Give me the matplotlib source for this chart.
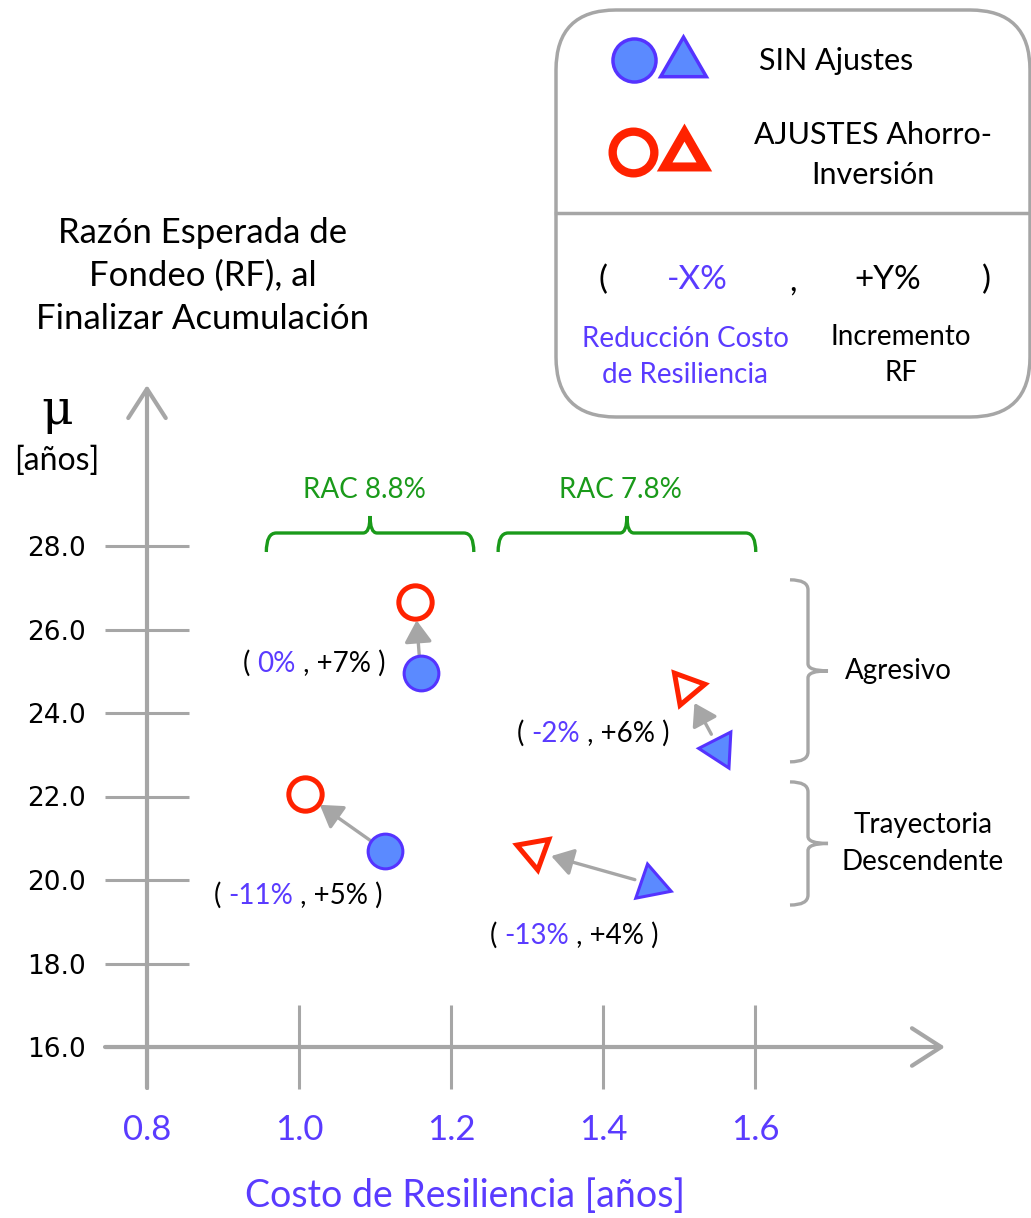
import numpy as np
import matplotlib.pyplot as plt
from matplotlib.path import Path
from matplotlib.patches import PathPatch, FancyBboxPatch

# ---- datos ----
base_x = [1.160, 1.113, 1.553, 1.463]     # SIN ajustes (costo de resiliencia)
base_y = [24.95, 20.70, 23.14, 19.90]     # SIN ajustes (RF)
adj_x = [1.153, 1.008, 1.509, 1.309]      # AJUSTES ahorro-inversion
adj_y = [26.65, 22.05, 24.62, 20.69]
shapes = ['o', 'o', 't', 't']
base_rot = [0, 0, 87, 11]
adj_rot = [0, 0, 40, 70]
cost_change = ['0%', '-11%', '-2%', '-13%']
rf_change = ['+7%', '+5%', '+6%', '+4%']
label_offsets = [(-128, 7), (-123, -32), (-146, 11), (-116, -37)]

xticks = [0.8, 1.0, 1.2, 1.4, 1.6]
yticks = [16, 18, 20, 22, 24, 26, 28]

rac_labels = ['RAC 8.8%', 'RAC 7.8%']
rac_spans = [(0.957, 1.230), (1.262, 1.601)]
group_labels = ['Agresivo', 'Trayectoria\nDescendente']
group_spans = [(22.83, 27.19), (19.40, 22.35)]

GRAY = '#a6a6a6'
BLUE_FACE = '#5b8aff'
BLUE_EDGE = '#5533ff'
RED = '#ff2200'
TXT_BLUE = '#5a3bff'
GREEN = '#1a9a1a'
FONT = 'Lato'

fig = plt.figure(figsize=(10.31, 12.18), dpi=100)

# capa de fondo en pixeles para titulo y leyenda
ov = fig.add_axes([0, 0, 1, 1])
ov.set_xlim(0, 1031)
ov.set_ylim(1218, 0)
ov.axis('off')

ax = fig.add_axes([105 / 1031, 130 / 1218, 840 / 1031, 703 / 1218])
ax.patch.set_visible(False)
ax.set_xlim(0.8 - 42 / 760, 0.8 + 798 / 760)
ax.set_ylim(16 - 41 / 41.75, 16 + 662 / 41.75)
for s in ['top', 'right', 'left', 'bottom']:
    ax.spines[s].set_visible(False)
ax.spines['left'].set_position(('data', 0.8))
ax.spines['bottom'].set_position(('data', 16))

# ejes con flecha abierta
x0, x1 = ax.get_xlim()
y0, y1 = ax.get_ylim()
arrow_axis = dict(arrowstyle='->,head_length=0.7,head_width=0.45', color=GRAY, lw=3,
                  shrinkA=0, shrinkB=0, mutation_scale=30)
ax.annotate('', xy=(x1, 16), xytext=(x0, 16), arrowprops=arrow_axis, zorder=1)
ax.annotate('', xy=(0.8, y1), xytext=(0.8, y0), arrowprops=arrow_axis, zorder=1)

ax.set_xticks(xticks)
ax.set_xticklabels([f'{v:.1f}' for v in xticks], color=TXT_BLUE, fontsize=25, family=FONT)
ax.set_yticks(yticks)
ax.set_yticklabels([f'{v:.1f}' for v in yticks], fontsize=19, family='DejaVu Sans')
ax.tick_params(direction='inout', length=60, width=2.2, color=GRAY, pad=14)
ax.tick_params(axis='x', pad=18)

ax.set_xlabel('Costo de Resiliencia [años]', color=TXT_BLUE, fontsize=27, family=FONT)
ax.xaxis.label.set_va('center')
ax.xaxis.set_label_coords((465 - 105) / 840, -(1196 - 1088) / 703)


def tri_marker(rot):
    return (3, 0, rot)


# flechas de desplazamiento
for bx, by, axx, ayy in zip(base_x, base_y, adj_x, adj_y):
    ax.annotate('', xy=(axx, ayy), xytext=(bx, by),
                arrowprops=dict(arrowstyle='-|>,head_length=0.6,head_width=0.38',
                                color=GRAY, lw=2.4, shrinkA=12, shrinkB=13,
                                mutation_scale=22), zorder=2)

# puntos
for i in range(len(base_x)):
    if shapes[i] == 'o':
        ax.plot(base_x[i], base_y[i], 'o', ms=25, mfc=BLUE_FACE, mec=BLUE_EDGE, mew=2.2, zorder=3)
        ax.plot(adj_x[i], adj_y[i], 'o', ms=24, mfc='white', mec=RED, mew=3.6, zorder=3)
    else:
        ax.plot(base_x[i], base_y[i], marker=tri_marker(base_rot[i]), ms=30,
                mfc=BLUE_FACE, mec=BLUE_EDGE, mew=2.2, ls='none', zorder=3)
        ax.plot(adj_x[i], adj_y[i], marker=tri_marker(adj_rot[i]), ms=27,
                mfc='white', mec=RED, mew=3.6, ls='none', zorder=3)


def rainbow(x, y, parts, off, size):
    t = ax.annotate(parts[0][0], xy=(x, y), xytext=off, textcoords='offset points',
                    color=parts[0][1], va='center', ha='left', fontsize=size, family=FONT)
    for s, c in parts[1:]:
        t = ax.annotate(s, xy=(1, 0), xycoords=t, va='bottom', ha='left',
                        color=c, fontsize=size, family=FONT)


for i in range(len(base_x)):
    rainbow(base_x[i], base_y[i],
            [('( ', 'black'), (cost_change[i], TXT_BLUE), (' , ' + rf_change[i] + ' )', 'black')],
            label_offsets[i], 20)

# llaves horizontales (RAC)
sx = 760.0
sy = 41.75


def hbrace(xa, xb, ylow, yline, ytip, color):
    r = 10 / sx
    rt = 7 / sx
    xm = (xa + xb) / 2
    verts = [(xa, ylow), (xa, yline), (xa + r, yline), (xm - rt, yline),
             (xm, yline), (xm, ytip), (xm, yline), (xm + rt, yline),
             (xb - r, yline), (xb, yline), (xb, ylow)]
    codes = [Path.MOVETO, Path.CURVE3, Path.CURVE3, Path.LINETO,
             Path.CURVE3, Path.CURVE3, Path.CURVE3, Path.CURVE3,
             Path.LINETO, Path.CURVE3, Path.CURVE3]
    ax.add_patch(PathPatch(Path(verts, codes), fc='none', ec=color, lw=2.4, clip_on=False))


def vbrace(ya, yb, xlow, xline, xtip, color):
    r = 10 / sy
    rt = 7 / sy
    ym = (ya + yb) / 2
    verts = [(xlow, yb), (xline, yb), (xline, yb - r), (xline, ym + rt),
             (xline, ym), (xtip, ym), (xline, ym), (xline, ym - rt),
             (xline, ya + r), (xline, ya), (xlow, ya)]
    codes = [Path.MOVETO, Path.CURVE3, Path.CURVE3, Path.LINETO,
             Path.CURVE3, Path.CURVE3, Path.CURVE3, Path.CURVE3,
             Path.LINETO, Path.CURVE3, Path.CURVE3]
    ax.add_patch(PathPatch(Path(verts, codes), fc='none', ec=color, lw=2.4, clip_on=False))


for lab, (xa, xb) in zip(rac_labels, rac_spans):
    hbrace(xa, xb, 16 + 495 / sy, 16 + 514 / sy, 16 + 531 / sy, GREEN)
    ax.text((xa + xb) / 2 - 0.008, 16 + 557 / sy, lab, color=GREEN, fontsize=20,
            family=FONT, ha='center', va='center')

for lab, (ya, yb) in zip(group_labels, group_spans):
    vbrace(ya, yb, 0.8 + 643 / sx, 0.8 + 661 / sx, 0.8 + 681 / sx, GRAY)
for lab, (ya, yb) in zip(group_labels, group_spans):
    ym = (ya + yb) / 2
    if '\n' in lab:
        ax.text(0.8 + 776 / sx, ym, lab, fontsize=20, family=FONT, ha='center',
                va='center', linespacing=1.5)
    else:
        ax.text(0.8 + 698 / sx, ym, lab, fontsize=20, family=FONT, ha='left', va='center')

# titulo del eje y
ov.text(203, 276, 'Razón Esperada de\nFondeo (RF), al\nFinalizar Acumulación',
        fontsize=25, family=FONT, ha='center', va='center', linespacing=1.42)
ov.text(57, 410, 'μ', fontsize=35, family='DejaVu Serif', ha='center', va='center')
ov.text(57, 461, '[años]', fontsize=23, family=FONT, ha='center', va='center')

# leyenda
ov.add_patch(FancyBboxPatch((556, 10), 474, 407, boxstyle='round,pad=0,rounding_size=60',
                            fc='white', ec=GRAY, lw=2.5, zorder=1))
ov.plot([556, 1031], [213, 213], color=GRAY, lw=2.5, zorder=2)
ov.plot(634, 60, 'o', ms=31, mfc=BLUE_FACE, mec=BLUE_EDGE, mew=2.5, zorder=3)
ov.plot(683, 63, marker=(3, 0, 0), ms=38, mfc=BLUE_FACE, mec=BLUE_EDGE, mew=2.5, zorder=3)
ov.plot(633, 152, 'o', ms=30, mfc='white', mec=RED, mew=6, zorder=3)
ov.plot(684, 155, marker=(3, 0, 0), ms=33, mfc='white', mec=RED, mew=6.5, zorder=3)
ov.text(836, 61, 'SIN Ajustes', fontsize=22, family=FONT, ha='center', va='center', zorder=3)
ov.text(873, 155, 'AJUSTES Ahorro-\nInversión', fontsize=22, family=FONT, ha='center',
        va='center', linespacing=1.55, zorder=3)
ov.text(603, 280, '(', fontsize=24, family=FONT, ha='center', va='center', zorder=3)
ov.text(697, 280, '-X%', fontsize=24, family=FONT, color=TXT_BLUE, ha='center', va='center', zorder=3)
ov.text(793, 282, ',', fontsize=24, family=FONT, ha='center', va='center', zorder=3)
ov.text(888, 280, '+Y%', fontsize=24, family=FONT, ha='center', va='center', zorder=3)
ov.text(986, 280, ')', fontsize=24, family=FONT, ha='center', va='center', zorder=3)
ov.text(685, 357, 'Reducción Costo\nde Resiliencia', fontsize=20, family=FONT,
        color=TXT_BLUE, ha='center', va='center', linespacing=1.45, zorder=3)
ov.text(901, 355, 'Incremento\nRF', fontsize=20, family=FONT, ha='center', va='center',
        linespacing=1.45, zorder=3)

fig.savefig('out.png', dpi=100)
